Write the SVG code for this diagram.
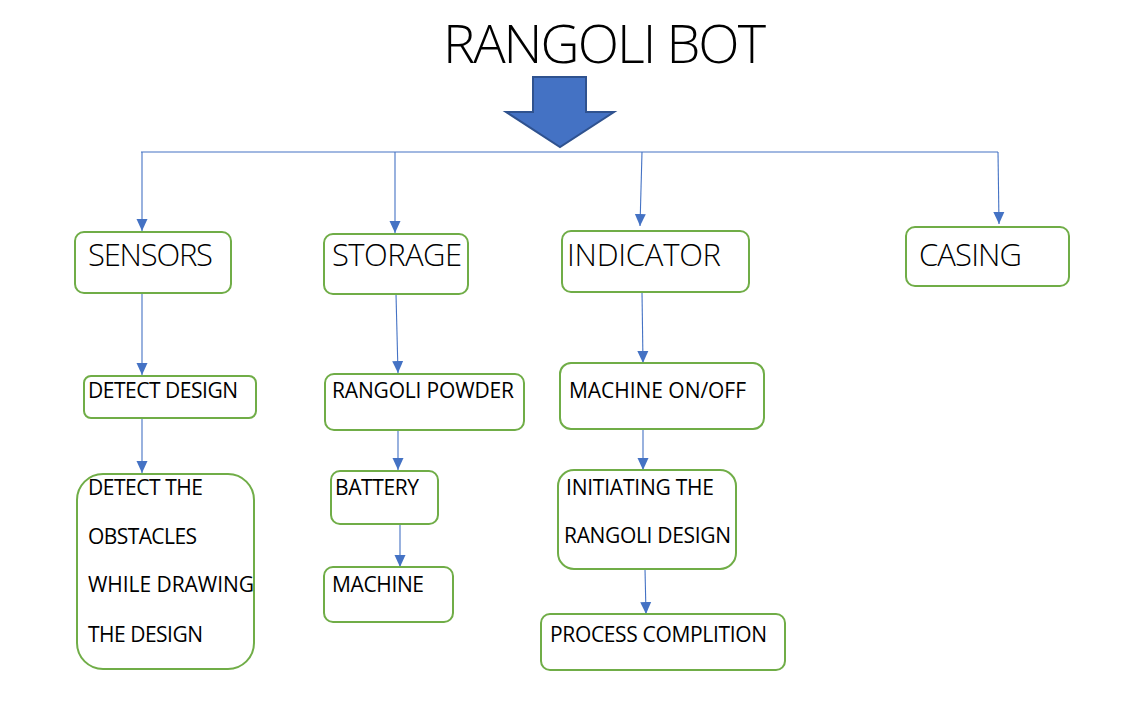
<svg xmlns="http://www.w3.org/2000/svg" width="1147" height="710" viewBox="0 0 1147 710">
<style>
.box{fill:#ffffff;stroke:#70AD47;stroke-width:2}
.big{font-family:"Open Sans","Liberation Sans",sans-serif;font-weight:300;font-size:31px;fill:#000}
.sm{font-family:"Open Sans","Liberation Sans",sans-serif;font-size:21px;fill:#000}
.title{font-family:"Open Sans","Liberation Sans",sans-serif;font-weight:300;font-size:54px;fill:#000}
.con{stroke:#4472C4;stroke-width:1.1;fill:none}
.arr{stroke:#4472C4;stroke-width:1.1;fill:none;marker-end:url(#ah)}
</style>
<defs>
<marker id="ah" viewBox="0 0 12 12" refX="12" refY="6" markerWidth="12" markerHeight="12" markerUnits="userSpaceOnUse" orient="auto">
<path d="M0,0.5 L12,6 L0,11.5 Z" fill="#4472C4"/>
</marker>
</defs>
<rect width="1147" height="710" fill="#ffffff"/>
<g id="title">
<text class="title" x="443" y="63" textLength="323">RANGOLI BOT</text>
<path d="M533,77 L586,77 L586,112 L614,112 L560,147 L506,112 L533,112 Z" fill="#4472C4" stroke="#2F528F" stroke-width="2" stroke-linejoin="miter"/>
</g>
<g id="connectors">
<line class="con" x1="141" y1="152" x2="998" y2="152"/>
<line class="arr" x1="142" y1="152" x2="142" y2="231"/>
<line class="arr" x1="395" y1="152" x2="395" y2="233"/>
<line class="arr" x1="642" y1="152" x2="640" y2="226"/>
<line class="arr" x1="998" y1="152" x2="999" y2="224"/>
<line class="arr" x1="142" y1="293" x2="142" y2="375"/>
<line class="arr" x1="142" y1="418" x2="142" y2="473"/>
<line class="arr" x1="396" y1="294" x2="398" y2="373"/>
<line class="arr" x1="398" y1="430" x2="398" y2="470"/>
<line class="arr" x1="400" y1="524" x2="400" y2="567"/>
<line class="arr" x1="642" y1="292" x2="643" y2="363"/>
<line class="arr" x1="643" y1="429" x2="643" y2="470"/>
<line class="arr" x1="645" y1="569" x2="646" y2="614"/>
</g>
<g id="sensors">
<rect class="box" x="75" y="232" width="156" height="61" rx="9"/>
<text class="big" x="88" y="266" textLength="125">SENSORS</text>
</g>
<g id="storage">
<rect class="box" x="324" y="234" width="144" height="60" rx="9"/>
<text class="big" x="332" y="266" textLength="130">STORAGE</text>
</g>
<g id="indicator">
<rect class="box" x="562" y="231" width="187" height="61" rx="9"/>
<text class="big" x="567" y="266" textLength="154">INDICATOR</text>
</g>
<g id="casing">
<rect class="box" x="906" y="227" width="163" height="59" rx="9"/>
<text class="big" x="919" y="266" textLength="103">CASING</text>
</g>
<g id="detect-design">
<rect class="box" x="84" y="376" width="172" height="42" rx="7"/>
<text class="sm" x="88" y="398" textLength="150">DETECT DESIGN</text>
</g>
<g id="detect-obstacles">
<rect class="box" x="77" y="474" width="177" height="195" rx="26"/>
<text class="sm" x="88" y="495" textLength="115">DETECT THE</text>
<text class="sm" x="88" y="544" textLength="109">OBSTACLES</text>
<text class="sm" x="88" y="592" textLength="166">WHILE DRAWING</text>
<text class="sm" x="88" y="642" textLength="115">THE DESIGN</text>
</g>
<g id="rangoli-powder">
<rect class="box" x="325" y="374" width="199" height="56" rx="9"/>
<text class="sm" x="332" y="398" textLength="182">RANGOLI POWDER</text>
</g>
<g id="battery">
<rect class="box" x="331" y="471" width="107" height="53" rx="9"/>
<text class="sm" x="335" y="495" textLength="84">BATTERY</text>
</g>
<g id="machine">
<rect class="box" x="324" y="567" width="129" height="55" rx="9"/>
<text class="sm" x="332" y="592" textLength="92">MACHINE</text>
</g>
<g id="machine-onoff">
<rect class="box" x="560" y="363" width="204" height="66" rx="11"/>
<text class="sm" x="569" y="398" textLength="177">MACHINE ON/OFF</text>
</g>
<g id="initiating">
<rect class="box" x="558" y="470" width="178" height="99" rx="16"/>
<text class="sm" x="566" y="495" textLength="148">INITIATING THE</text>
<text class="sm" x="564" y="543" textLength="167">RANGOLI DESIGN</text>
</g>
<g id="process-complition">
<rect class="box" x="541" y="614" width="244" height="56" rx="9"/>
<text class="sm" x="550" y="642" textLength="217">PROCESS COMPLITION</text>
</g>
</svg>
